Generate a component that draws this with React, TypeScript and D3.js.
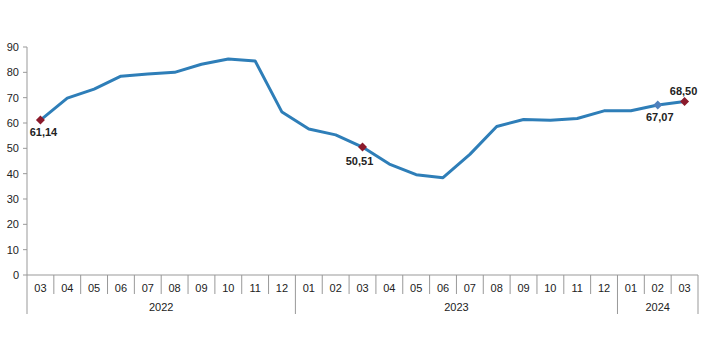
import React from "react";
import * as d3 from "d3";

const months = ["03","04","05","06","07","08","09","10","11","12","01","02","03","04","05","06","07","08","09","10","11","12","01","02","03"];
const values = [61.14,69.8,73.4,78.5,79.3,80.0,83.2,85.3,84.5,64.3,57.6,55.3,50.51,43.8,39.6,38.4,47.6,58.6,61.4,61.1,61.8,64.8,64.8,67.07,68.5];
const years = [{ label: "2022", start: 0, end: 10 }, { label: "2023", start: 10, end: 22 }, { label: "2024", start: 22, end: 25 }];
const yTicks = [0,10,20,30,40,50,60,70,80,90];
const labeled = [
  { i: 0, text: "61,14", color: "#8B1A2B", dx: 3, dy: 12 },
  { i: 12, text: "50,51", color: "#8B1A2B", dx: -3, dy: 14 },
  { i: 23, text: "67,07", color: "#4F81BD", dx: 2, dy: 12.5 },
  { i: 24, text: "68,50", color: "#8B1A2B", dx: -1, dy: -10.5 },
];

export default function App() {
  const W = 702, H = 351;
  const x0 = 27, x1 = 698, yTop = 47, yBot = 275;
  const x = d3.scaleBand<number>().domain(d3.range(months.length)).range([x0, x1]);
  const y = d3.scaleLinear().domain([0, 90]).range([yBot, yTop]);
  const line = d3.line<number>().x((_, i) => x(i)! + x.bandwidth() / 2).y(d => y(d));
  const font = "'Liberation Sans', Arial, sans-serif";
  const gray = "#999";
  const r = 4.5;
  const diamond = `M0,${-r}L${r},0L0,${r}L${-r},0Z`;
  return (
    <svg width={W} height={H} style={{ position: "absolute", left: 0, top: 0, background: "#fff" }} fontFamily={font}>
      <line x1={x0} x2={x0} y1={yTop} y2={yBot} stroke={gray} />
      {yTicks.map(t => (
        <g key={t}>
          <line x1={x0 - 4} x2={x0} y1={y(t)} y2={y(t)} stroke={gray} />
          <text x={x0 - 8} y={y(t)} dy="0.35em" textAnchor="end" fontSize={11} fill="#222">{t}</text>
        </g>
      ))}
      <line x1={x0} x2={x1} y1={yBot} y2={yBot} stroke={gray} />
      {d3.range(months.length + 1).map(i => {
        const xx = i < months.length ? x(i)! : x1;
        const isYear = years.some(yr => yr.start === i) || i === months.length;
        return <line key={i} x1={xx} x2={xx} y1={yBot} y2={isYear ? 314 : 294} stroke={gray} />;
      })}
      {months.map((m, i) => (
        <text key={i} x={x(i)! + x.bandwidth() / 2} y={288} dy="0.35em" textAnchor="middle" fontSize={11} fill="#222">{m}</text>
      ))}
      {years.map(yr => {
        const a = x(yr.start)!;
        const b = yr.end < months.length ? x(yr.end)! : x1;
        return <text key={yr.label} x={(a + b) / 2} y={307} dy="0.35em" textAnchor="middle" fontSize={11} fill="#222">{yr.label}</text>;
      })}
      <path d={line(values)!} fill="none" stroke="#2E7EB8" strokeWidth={3} strokeLinejoin="round" />
      {labeled.map(l => {
        const cx = x(l.i)! + x.bandwidth() / 2;
        const cy = y(values[l.i]);
        return (
          <g key={l.i}>
            <path d={diamond} transform={`translate(${cx},${cy})`} fill={l.color} />
            <text x={cx + l.dx} y={cy + l.dy} dy="0.35em" textAnchor="middle" fontSize={11} fontWeight="bold" fill="#222">{l.text}</text>
          </g>
        );
      })}
    </svg>
  );
}
